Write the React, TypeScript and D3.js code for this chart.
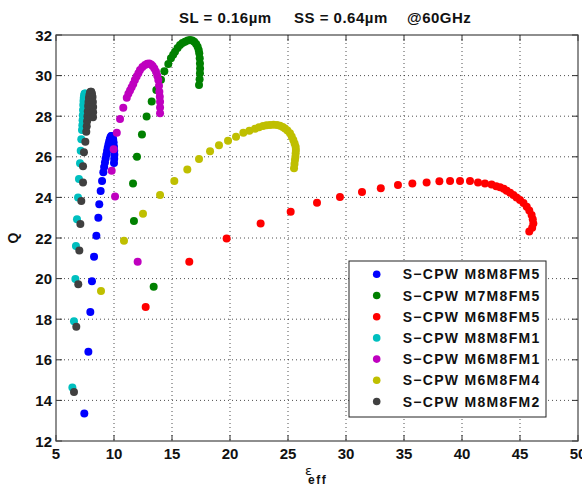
import React from "react";
import * as d3 from "d3";

// ---- data (eps_eff, Q) ----
const xTicks = [5, 10, 15, 20, 25, 30, 35, 40, 45, 50];
const yTicks = [12, 14, 16, 18, 20, 22, 24, 26, 28, 30, 32];
const titleParts = ["SL = 0.16\u00b5m", "SS = 0.64\u00b5m", "@60GHz"];

const seriesNames = [
  "S\u2212CPW M8M8FM5",
  "S\u2212CPW M7M8FM5",
  "S\u2212CPW M6M8FM5",
  "S\u2212CPW M8M8FM1",
  "S\u2212CPW M6M8FM1",
  "S\u2212CPW M6M8FM4",
  "S\u2212CPW M8M8FM2",
];
const seriesColors = ["#0000ff", "#008000", "#ff0000", "#00bfbf", "#bf00bf", "#bfbf00", "#404040"];

const m8m8fm5: [number, number][] = [
  [7.44, 13.36], [7.79, 16.4], [7.96, 18.35], [8.1, 19.87], [8.28, 21.08], [8.48, 22.11],
  [8.65, 23.0], [8.73, 23.66], [8.85, 24.32], [8.97, 24.81], [9.08, 25.24], [9.15, 25.5],
  [9.22, 25.72], [9.28, 25.92], [9.34, 26.1], [9.4, 26.28], [9.46, 26.45], [9.52, 26.6],
  [9.58, 26.74], [9.64, 26.86], [9.7, 26.96], [9.76, 27.02], [9.82, 27.02], [9.88, 26.96],
  [9.93, 26.85], [9.97, 26.7], [10.0, 26.5], [10.02, 26.3], [10.03, 26.1], [10.02, 25.9], [10.0, 25.7],
];
const m7m8fm5: [number, number][] = [
  [13.42, 19.6], [11.72, 22.84], [11.64, 24.68], [11.98, 26.0], [12.41, 27.1], [12.81, 27.98],
  [13.25, 28.72], [13.65, 29.29], [14.05, 29.79], [14.34, 30.22], [14.68, 30.57], [14.91, 30.85],
  [15.1, 31.03], [15.26, 31.18], [15.48, 31.36], [15.69, 31.51], [15.9, 31.6], [16.12, 31.67],
  [16.35, 31.73], [16.55, 31.75], [16.75, 31.73], [16.92, 31.67], [17.08, 31.56], [17.21, 31.42],
  [17.3, 31.26], [17.35, 31.1], [17.39, 30.85], [17.41, 30.6], [17.42, 30.35], [17.41, 30.11],
  [17.38, 29.82], [17.33, 29.54],
];
const m6m8fm5: [number, number][] = [
  [12.73, 18.6], [16.49, 20.83], [19.71, 21.98], [22.64, 22.71], [25.23, 23.29], [27.5, 23.74],
  [29.48, 24.02], [31.38, 24.27], [33.0, 24.45], [34.48, 24.61], [35.72, 24.69], [36.95, 24.74],
  [38.05, 24.79], [38.97, 24.81], [39.83, 24.81], [40.69, 24.81], [41.38, 24.74], [41.98, 24.69],
  [42.55, 24.63], [42.95, 24.55], [43.28, 24.5], [43.6, 24.42], [43.85, 24.33], [44.15, 24.23],
  [44.43, 24.12], [44.7, 24.0], [45.0, 23.87], [45.3, 23.72], [45.58, 23.54], [45.8, 23.35],
  [46.0, 23.13], [46.1, 22.92], [46.15, 22.72], [46.05, 22.5], [45.8, 22.32],
];
const m8m8fm1: [number, number][] = [
  [6.41, 14.64], [6.55, 17.9], [6.67, 19.98], [6.72, 21.61], [6.81, 22.92], [6.9, 23.99],
  [6.98, 24.91], [7.07, 25.68], [7.13, 26.3], [7.18, 26.86], [7.24, 27.32], [7.27, 27.55],
  [7.29, 27.8], [7.31, 28.05], [7.33, 28.3], [7.35, 28.55], [7.37, 28.75], [7.39, 28.9],
  [7.42, 29.02], [7.46, 29.1], [7.5, 29.12], [7.55, 29.1], [7.6, 29.0], [7.65, 28.8],
  [7.68, 28.5], [7.7, 28.2],
];
const m6m8fm1: [number, number][] = [
  [12.04, 20.83], [10.09, 24.05], [9.8, 25.31], [9.97, 26.37], [10.24, 27.19], [10.52, 27.86],
  [10.8, 28.42], [11.1, 28.91], [11.24, 29.1], [11.38, 29.27], [11.52, 29.43], [11.66, 29.59],
  [11.8, 29.78], [11.95, 29.95], [12.1, 30.12], [12.24, 30.28], [12.45, 30.42], [12.67, 30.52],
  [12.86, 30.58], [13.04, 30.6], [13.2, 30.55], [13.33, 30.47], [13.48, 30.35], [13.62, 30.19],
  [13.73, 29.99], [13.82, 29.78], [13.88, 29.5], [13.91, 29.21], [13.95, 28.96], [13.97, 28.71],
  [13.97, 28.43], [13.97, 28.14],
];
const m6m8fm4: [number, number][] = [
  [8.88, 19.39], [10.86, 21.87], [12.5, 23.2], [13.97, 24.12], [15.2, 24.81], [16.32, 25.38],
  [17.33, 25.89], [18.28, 26.27], [19.05, 26.57], [19.83, 26.79], [20.52, 26.99], [21.15, 27.19],
  [21.67, 27.28], [22.16, 27.38], [22.5, 27.45], [22.85, 27.52], [23.15, 27.55], [23.45, 27.57],
  [23.75, 27.58], [24.05, 27.57], [24.31, 27.53], [24.55, 27.47], [24.74, 27.4], [24.95, 27.3],
  [25.17, 27.16], [25.32, 27.0], [25.46, 26.83], [25.57, 26.66], [25.66, 26.5], [25.68, 26.33],
  [25.66, 26.17], [25.64, 26.0], [25.6, 25.84], [25.56, 25.64], [25.52, 25.43],
];
const m8m8fm2: [number, number][] = [
  [6.55, 14.41], [6.75, 17.63], [6.92, 19.72], [7.01, 21.38], [7.1, 22.69], [7.18, 23.82],
  [7.33, 24.74], [7.33, 25.53], [7.41, 26.22], [7.53, 26.74], [7.61, 27.24], [7.65, 27.5],
  [7.68, 27.75], [7.71, 28.0], [7.74, 28.25], [7.77, 28.5], [7.8, 28.7], [7.84, 28.9],
  [7.88, 29.05], [7.93, 29.15], [7.98, 29.2], [8.04, 29.2], [8.1, 29.1], [8.15, 28.95],
  [8.18, 28.7], [8.2, 28.45], [8.2, 28.2], [8.19, 27.95],
];

const allSeries = [m8m8fm5, m7m8fm5, m6m8fm5, m8m8fm1, m6m8fm1, m6m8fm4, m8m8fm2];

// ---- layout ----
const W = 582, H = 486;
const L = 56, R = 578, T = 35, B = 441;
const FONT = "'Liberation Sans', Arial, Helvetica, sans-serif";

export default function App() {
  const x = d3.scaleLinear().domain([5, 50]).range([L, R]);
  const y = d3.scaleLinear().domain([12, 32]).range([B, T]);
  const tick = 6;
  const gridColor = "#222";

  const legL = 349, legT = 261, legR = 546, legB = 417;
  const legY0 = 274.3, legStep = 21.2;

  return (
    <svg width={W} height={H} style={{ position: "absolute", left: 0, top: 0, background: "#fff" }}>
      <rect x={0} y={0} width={W} height={H} fill="#fff" />
      {/* grid */}
      {xTicks.slice(1, -1).map((v) => (
        <line key={"gx" + v} x1={x(v)} x2={x(v)} y1={T} y2={B} stroke={gridColor} strokeWidth={0.8} strokeDasharray="1,3" />
      ))}
      {yTicks.slice(1, -1).map((v) => (
        <line key={"gy" + v} x1={L} x2={R} y1={y(v)} y2={y(v)} stroke={gridColor} strokeWidth={0.8} strokeDasharray="1,3" />
      ))}
      {/* tick marks */}
      {xTicks.map((v) => (
        <g key={"tx" + v}>
          <line x1={x(v)} x2={x(v)} y1={B} y2={B - tick} stroke="#333" />
          <line x1={x(v)} x2={x(v)} y1={T} y2={T + tick} stroke="#333" />
        </g>
      ))}
      {yTicks.map((v) => (
        <g key={"ty" + v}>
          <line x1={L} x2={L + tick} y1={y(v)} y2={y(v)} stroke="#333" />
          <line x1={R} x2={R - tick} y1={y(v)} y2={y(v)} stroke="#333" />
        </g>
      ))}
      {/* axes box */}
      <rect x={L} y={T} width={R - L} height={B - T} fill="none" stroke="#444" strokeWidth={1.2} />
      {/* data */}
      {allSeries.map((s, i) => (
        <g key={"s" + i} fill={seriesColors[i]}>
          {s.map((p, j) => (
            <circle key={j} cx={x(p[0])} cy={y(p[1])} r={4} />
          ))}
        </g>
      ))}
      {/* tick labels */}
      {xTicks.map((v) => (
        <text key={"lx" + v} x={x(v)} y={459} textAnchor="middle" fontFamily={FONT} fontWeight="bold" fontSize={15} fill="#111">
          {v}
        </text>
      ))}
      {yTicks.map((v) => (
        <text key={"ly" + v} x={52} y={y(v) + 5.5} textAnchor="end" fontFamily={FONT} fontWeight="bold" fontSize={15} fill="#111">
          {v}
        </text>
      ))}
      {/* title */}
      <text x={179} y={23} fontFamily={FONT} fontWeight="bold" fontSize={15} letterSpacing={0.5} fill="#111">{titleParts[0]}</text>
      <text x={294} y={23} fontFamily={FONT} fontWeight="bold" fontSize={15} letterSpacing={0.5} fill="#111">{titleParts[1]}</text>
      <text x={407} y={23} fontFamily={FONT} fontWeight="bold" fontSize={15} letterSpacing={0.5} fill="#111">{titleParts[2]}</text>
      {/* axis labels */}
      <text x={305} y={475} fontFamily="'DejaVu Sans', sans-serif" fontSize={13} fill="#111">ε</text>
      <text x={308} y={484} fontFamily={FONT} fontWeight="bold" fontSize={12} letterSpacing={1.5} fill="#111">eff</text>
      <text transform={`translate(18,${(T + B) / 2}) rotate(-90)`} textAnchor="middle" fontFamily={FONT} fontWeight="bold" fontSize={14} fill="#111">Q</text>
      {/* legend */}
      <rect x={legL} y={legT} width={legR - legL} height={legB - legT} fill="#fff" stroke="#222" strokeWidth={1} />
      {seriesNames.map((n, i) => (
        <g key={"lg" + i}>
          <circle cx={376.7} cy={legY0 + i * legStep} r={3.8} fill={seriesColors[i]} />
          <text x={402.7} y={legY0 + i * legStep + 5} fontFamily={FONT} fontWeight="bold" fontSize={14} letterSpacing={1.3} fill="#111">
            {n}
          </text>
        </g>
      ))}
    </svg>
  );
}
